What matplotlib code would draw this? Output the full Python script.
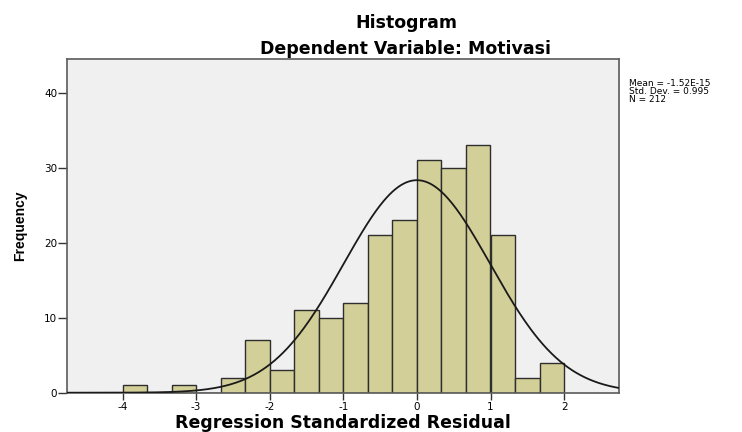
import numpy as np
import matplotlib
matplotlib.use("Agg")
import matplotlib.pyplot as plt

# histogram of regression standardized residuals (bins of width 1/3 from -4)
bin_start = -4.0
bin_width = 1.0 / 3.0
counts = [1, 0, 1, 0, 2, 7, 3, 11, 10, 12, 21, 23, 31, 30, 33, 21, 2, 4]
mean = -1.52e-15
std = 0.995
n = 212

x_ticks = [-4, -3, -2, -1, 0, 1, 2]
y_ticks = [0, 10, 20, 30, 40]
stats_lines = ["Mean = -1.52E-15", "Std. Dev. = 0.995", "N = 212"]

plt.rcParams['font.family'] = ['DejaVu Sans']

fig = plt.figure(figsize=(7.42, 4.32), dpi=100)
ax = fig.add_axes([67.3/742, 1 - 392.7/432, (619.3 - 67.3)/742, (392.7 - 59.3)/432])
ax.set_facecolor('#f0f0f0')

lefts = bin_start + bin_width * np.arange(len(counts))
ax.bar(lefts, counts, width=bin_width, align='edge', color='#d3cf98',
       edgecolor='#2e2e2e', linewidth=1.0, zorder=2)

xs = np.linspace(-4.75, 2.75, 400)
pdf = n * bin_width / (std * np.sqrt(2 * np.pi)) * np.exp(-0.5 * ((xs - mean) / std) ** 2)
ax.plot(xs, pdf, color='#1a1a1a', linewidth=1.3, zorder=3)

ax.set_xlim(-4.75, 2.75)
ax.set_ylim(0, 44.45)
ax.set_xticks(x_ticks)
ax.set_xticklabels([str(t) for t in x_ticks])
ax.set_yticks(y_ticks)
for s in ax.spines.values():
    s.set_color('#5a5a5a')
    s.set_linewidth(1.2)
ax.tick_params(axis='x', direction='out', length=5, width=1.0,
               color='#333333', labelsize=7.5, pad=1.5)
ax.tick_params(axis='y', direction='out', length=6.5, width=1.0,
               color='#333333', labelsize=7.5, pad=0.8)

# axis titles
fig.text(343/742, 1 - 428.5/432, "Regression Standardized Residual", ha='center', va='baseline',
         fontsize=12.5, fontweight='bold')
fig.text(20/742, 1 - 226/432, "Frequency", rotation=90, ha='center', va='center',
         fontsize=10, fontweight='bold', family=['Liberation Sans', 'DejaVu Sans'])

fig.text(406/742, 1 - 28/432, "Histogram", ha='center', va='baseline',
         fontsize=12.5, fontweight='bold')
fig.text(406/742, 1 - 54/432, "Dependent Variable: Motivasi", ha='center', va='baseline',
         fontsize=12.5, fontweight='bold')

for i, line in enumerate(stats_lines):
    fig.text(629/742, 1 - (84 + 8 * i)/432, line, ha='left', va='center', fontsize=6.5)

fig.savefig("out.png", dpi=100)
